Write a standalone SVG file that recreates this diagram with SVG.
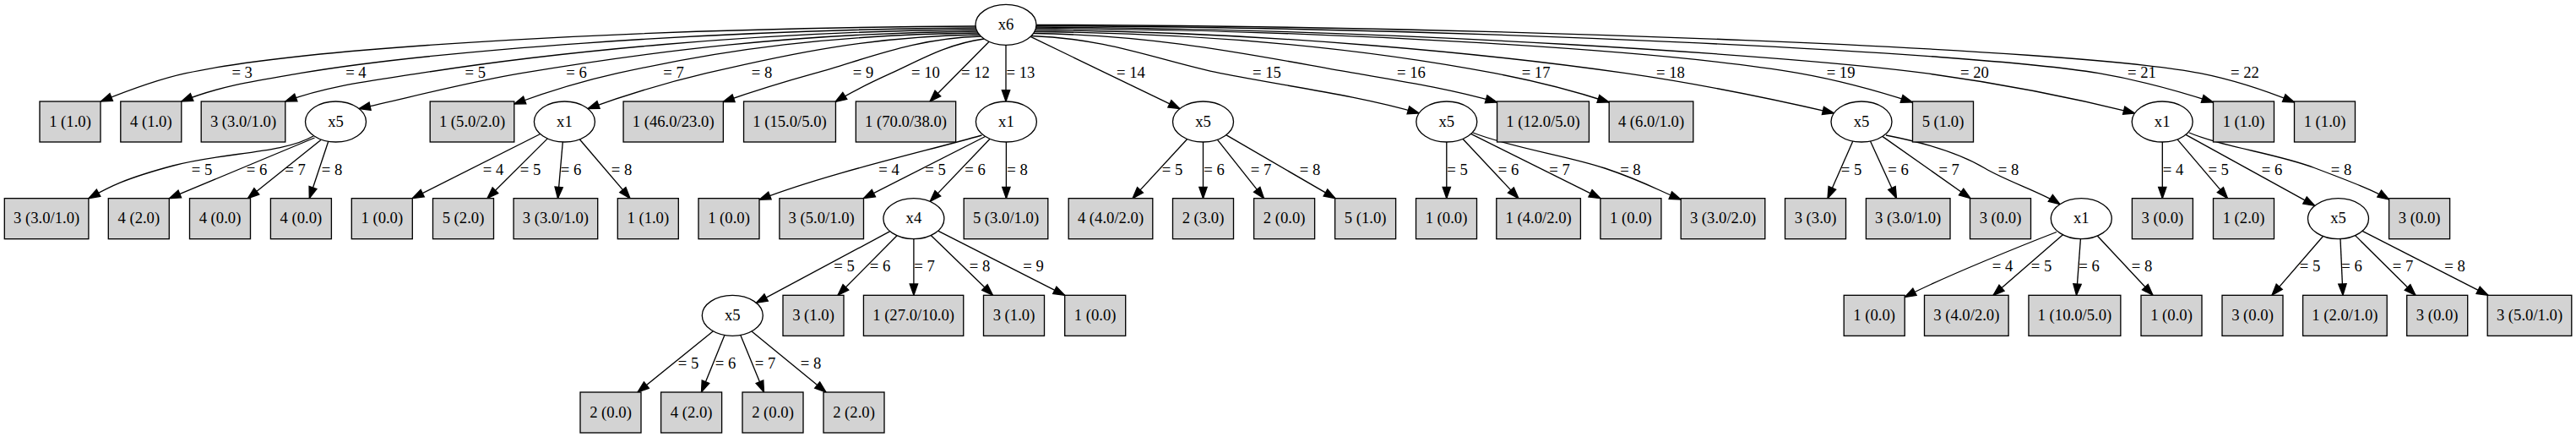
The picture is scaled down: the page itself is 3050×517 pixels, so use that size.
<svg xmlns="http://www.w3.org/2000/svg" width="3050" height="517" viewBox="0 0 3050 517">
<style>
text{font-family:"Liberation Serif","Times New Roman",serif;font-size:18.67px;text-anchor:middle;fill:#000}
.leaf rect{fill:#d3d3d3;stroke:#000;stroke-width:1.33}
.split ellipse{fill:#fff;stroke:#000;stroke-width:1.33}
#edges path{fill:none;stroke:#000;stroke-width:1.33;marker-end:url(#ah)}
</style>
<defs>
<marker id="ah" viewBox="0 -5 14 10" refX="13.33" refY="0" markerWidth="14" markerHeight="10" markerUnits="userSpaceOnUse" orient="auto" overflow="visible">
<path d="M0,-4.67 L13.33,0 L0,4.67 Z" fill="#000" stroke="#000" stroke-width="1.33"/>
</marker>
</defs>
<rect width="3050" height="517" fill="#fff"/>
<g id="edges">
<path d="M1155,31 C781,33 370,54 220,86.7 C186.8,93.9 152.6,106.6 119.4,120"/><text x="286.7" y="92">= 3</text>
<path d="M1155.4,33 C835.2,35 505,61.3 355,86.7 C308.7,94.5 261.1,101.3 214.8,120"/><text x="421.4" y="92">= 4</text>
<path d="M1156,35 C892.4,37 647,63.1 497,86.7 C444.5,94.9 390.3,100.9 337.8,120"/><text x="562.8" y="92">= 5</text>
<path d="M1156.9,37 C940.9,39 767,61.6 617,86.7 C553.7,97.3 488.4,114.5 425.1,128.6"/><text x="682.6" y="92">= 6</text>
<path d="M1158.1,39 C987.3,41 859,58.3 731,86.7 C690.7,95.6 649,108.3 608.7,123"/><text x="797.5" y="92">= 7</text>
<path d="M1159.6,41 C1030.2,43 933,63.9 836,86.7 C789.8,97.6 742.2,111.8 696,128.6"/><text x="902" y="92">= 8</text>
<path d="M1161.4,43 C1082.8,45 1024,70.5 965,86.7 C929,96.6 892,108.1 856,120.5"/><text x="1022" y="92">= 9</text>
<path d="M1165.1,46 C1121,52 1088,71.7 1055,86.7 C1033.2,96.6 1010.8,106.9 989,120.5"/><text x="1096" y="92">= 10</text>
<path d="M1171.1,49.3 L1101,120"/><text x="1155" y="92">= 12</text>
<path d="M1191,53.3 L1191,120"/><text x="1208.5" y="92">= 13</text>
<path d="M1220.2,43.4 L1396.9,128.6"/><text x="1339" y="92">= 14</text>
<path d="M1221.1,42.5 C1310.7,45 1378,73.3 1445,86.7 C1522.6,102.2 1602.6,111.6 1680.2,133.9"/><text x="1500" y="92">= 15</text>
<path d="M1223.6,39.5 C1376.2,41.5 1491,67 1605,86.7 C1660.2,96.2 1717.2,105.2 1772.4,121"/><text x="1671" y="92">= 16</text>
<path d="M1224.8,37.5 C1442.8,39.5 1620,58.3 1770,86.7 C1814.6,95.1 1860.5,106.5 1905.1,121"/><text x="1818.6" y="92">= 17</text>
<path d="M1225.8,35.5 C1505.5,37.5 1775,65.1 1925,86.7 C2006.3,98.4 2090.1,115.1 2171.4,133.9"/><text x="1978" y="92">= 18</text>
<path d="M1226.4,33.5 C1587.8,35.5 1980,60.3 2130,86.7 C2174.3,94.5 2220,106.6 2264.3,121"/><text x="2179.6" y="92">= 19</text>
<path d="M1226.8,32 C1648.1,34 2130,66.4 2280,86.7 C2361.7,97.7 2445.9,113.6 2527.6,133.9"/><text x="2338" y="92">= 20</text>
<path d="M1227.1,30.5 C1730.3,32.5 2335,61.3 2485,86.7 C2529.7,94.3 2575.7,106.5 2620.4,121"/><text x="2536" y="92">= 21</text>
<path d="M1227.25,29.3 C1778.4,31.3 2455,57 2605,86.7 C2641.8,94 2679.8,106.1 2716.6,121"/><text x="2658" y="92">= 22</text>

<path d="M371,161 C335,182 265,180 205,196 C145,212 128,222 104.9,234.67"/><text x="239" y="206.7">= 5</text>
<path d="M372.5,163 L200.5,234.67"/><text x="304" y="206.7">= 6</text>
<path d="M380,165.5 L293.4,234.67"/><text x="349.5" y="206.7">= 7</text>
<path d="M389,166.5 L366.3,234.67"/><text x="393" y="206.7">= 8</text>

<path d="M639.7,158.5 L488.3,234.67"/><text x="584" y="206.7">= 4</text>
<path d="M648.3,163.9 L577,234.67"/><text x="628" y="206.7">= 5</text>
<path d="M666.3,168 L660.5,234.67"/><text x="676" y="206.7">= 6</text>
<path d="M686.2,164.8 L746,234.67"/><text x="736" y="206.7">= 8</text>

<path d="M1162.5,160 C1100,178 980,205 899,236.3"/><text x="1052.6" y="206.7">= 4</text>
<path d="M1166.5,161.5 L1022.5,234.67"/><text x="1107.5" y="206.7">= 5</text>
<path d="M1172.1,164.25 L1101.2,238.4"/><text x="1154.6" y="206.7">= 6</text>
<path d="M1191.4,168 L1191.4,234.67"/><text x="1204.5" y="206.7">= 8</text>

<path d="M1405.7,164.5 L1341,234.67"/><text x="1388" y="206.7">= 5</text>
<path d="M1424.5,168 L1424.5,234.67"/><text x="1437.5" y="206.7">= 6</text>
<path d="M1441.3,165.2 L1496.5,234.67"/><text x="1493" y="206.7">= 7</text>
<path d="M1451.7,159.7 L1581,234.67"/><text x="1551" y="206.7">= 8</text>

<path d="M1712.8,168 L1712.8,234.67"/><text x="1725.5" y="206.7">= 5</text>
<path d="M1731.9,164.3 L1798,234.67"/><text x="1786" y="206.7">= 6</text>
<path d="M1741.6,158.4 L1894.9,234.67"/><text x="1846.5" y="206.7">= 7</text>
<path d="M1744,157 C1790,175 1855,184 1900,199 C1945,214 1965,226 1990.2,236"/><text x="1930.4" y="206.7">= 8</text>

<path d="M2193.8,167 L2164,234.67"/><text x="2192" y="206.7">= 5</text>
<path d="M2214.5,167 L2245.5,234.67"/><text x="2247.5" y="206.7">= 6</text>
<path d="M2228.8,161.4 L2333,234.67"/><text x="2307.7" y="206.7">= 7</text>
<path d="M2233,160 C2285,170 2325,184 2350,199 C2375,214 2418,228 2439,241.7"/><text x="2378" y="206.7">= 8</text>

<path d="M2560.3,168 L2560.3,234.67"/><text x="2573" y="206.7">= 4</text>
<path d="M2578,164.9 L2637.5,234.67"/><text x="2626.7" y="206.7">= 5</text>
<path d="M2588,159.3 L2740.7,243.4"/><text x="2690" y="206.7">= 6</text>
<path d="M2592,157 C2632,174 2695,181.5 2740,198.5 C2785,215.5 2812,226 2828.6,236"/><text x="2772" y="206.7">= 8</text>

<path d="M1053.8,273.7 L895.4,358.3"/><text x="999.5" y="321.4">= 5</text>
<path d="M1062,278.7 L992,349.33"/><text x="1042" y="321.4">= 6</text>
<path d="M1081.9,282.67 L1081.9,349.33"/><text x="1094.5" y="321.4">= 7</text>
<path d="M1102.3,278.4 L1175.5,349.33"/><text x="1160" y="321.4">= 8</text>
<path d="M1110.6,273.2 L1260.7,349.33"/><text x="1223.5" y="321.4">= 9</text>

<path d="M2435,274.5 C2400,288 2300,328 2255.2,351.5"/><text x="2371" y="321.4">= 4</text>
<path d="M2442.4,277.7 L2360,349.33"/><text x="2417" y="321.4">= 5</text>
<path d="M2463.4,282.67 L2458.5,349.33"/><text x="2473.6" y="321.4">= 6</text>
<path d="M2483.3,279 L2549,349.33"/><text x="2536" y="321.4">= 8</text>

<path d="M2750.5,279.5 L2690,349.33"/><text x="2735" y="321.4">= 5</text>
<path d="M2771,282.6 L2774,349.33"/><text x="2784.5" y="321.4">= 6</text>
<path d="M2788.6,278.6 L2860,349.33"/><text x="2845" y="321.4">= 7</text>
<path d="M2797.1,273.3 L2946,349.33"/><text x="2906.5" y="321.4">= 8</text>

<path d="M844.4,391.8 L755,464"/><text x="815" y="436.2">= 5</text>
<path d="M857.9,396.5 L830.5,464"/><text x="859" y="436.2">= 6</text>
<path d="M876.8,396.5 L904.5,464"/><text x="906" y="436.2">= 7</text>
<path d="M890,392 L978,464"/><text x="960" y="436.2">= 8</text>
</g>

<g id="n0" class="split"><ellipse cx="1191" cy="29.33" rx="36" ry="24"/><text x="1191" y="34.8">x6</text></g>

<g id="n1" class="leaf"><rect x="47" y="120" width="72" height="48"/><text x="83" y="149.5">1 (1.0)</text></g>
<g id="n2" class="leaf"><rect x="142.8" y="120" width="72" height="48"/><text x="178.8" y="149.5">4 (1.0)</text></g>
<g id="n3" class="leaf"><rect x="238.2" y="120" width="99.6" height="48"/><text x="288" y="149.5">3 (3.0/1.0)</text></g>
<g id="n4" class="split"><ellipse cx="397.5" cy="144" rx="36" ry="24"/><text x="397.5" y="149.5">x5</text></g>
<g id="n5" class="leaf"><rect x="509.2" y="120" width="99.6" height="48"/><text x="559" y="149.5">1 (5.0/2.0)</text></g>
<g id="n6" class="split"><ellipse cx="668.4" cy="144" rx="36" ry="24"/><text x="668.4" y="149.5">x1</text></g>
<g id="n7" class="leaf"><rect x="738.05" y="120" width="118.3" height="48"/><text x="797.2" y="149.5">1 (46.0/23.0)</text></g>
<g id="n8" class="leaf"><rect x="880.55" y="120" width="108.9" height="48"/><text x="935" y="149.5">1 (15.0/5.0)</text></g>
<g id="n9" class="leaf"><rect x="1013.35" y="120" width="118.3" height="48"/><text x="1072.5" y="149.5">1 (70.0/38.0)</text></g>
<g id="n10" class="split"><ellipse cx="1191.4" cy="144" rx="36" ry="24"/><text x="1191.4" y="149.5">x1</text></g>
<g id="n11" class="split"><ellipse cx="1424.5" cy="144" rx="36" ry="24"/><text x="1424.5" y="149.5">x5</text></g>
<g id="n12" class="split"><ellipse cx="1712.8" cy="144" rx="36" ry="24"/><text x="1712.8" y="149.5">x5</text></g>
<g id="n13" class="leaf"><rect x="1772.55" y="120" width="108.9" height="48"/><text x="1827" y="149.5">1 (12.0/5.0)</text></g>
<g id="n14" class="leaf"><rect x="1905.2" y="120" width="99.6" height="48"/><text x="1955" y="149.5">4 (6.0/1.0)</text></g>
<g id="n15" class="split"><ellipse cx="2204" cy="144" rx="36" ry="24"/><text x="2204" y="149.5">x5</text></g>
<g id="n16" class="leaf"><rect x="2264.5" y="120" width="72" height="48"/><text x="2300.5" y="149.5">5 (1.0)</text></g>
<g id="n17" class="split"><ellipse cx="2560.2" cy="144" rx="36" ry="24"/><text x="2560.2" y="149.5">x1</text></g>
<g id="n18" class="leaf"><rect x="2620.5" y="120" width="72" height="48"/><text x="2656.5" y="149.5">1 (1.0)</text></g>
<g id="n19" class="leaf"><rect x="2716.5" y="120" width="72" height="48"/><text x="2752.5" y="149.5">1 (1.0)</text></g>

<g id="n20" class="leaf"><rect x="5.3" y="234.67" width="99.6" height="48"/><text x="55.1" y="264.2">3 (3.0/1.0)</text></g>
<g id="n21" class="leaf"><rect x="128.3" y="234.67" width="72" height="48"/><text x="164.3" y="264.2">4 (2.0)</text></g>
<g id="n22" class="leaf"><rect x="224.5" y="234.67" width="72" height="48"/><text x="260.5" y="264.2">4 (0.0)</text></g>
<g id="n23" class="leaf"><rect x="320.4" y="234.67" width="72" height="48"/><text x="356.4" y="264.2">4 (0.0)</text></g>
<g id="n24" class="leaf"><rect x="416.3" y="234.67" width="72" height="48"/><text x="452.3" y="264.2">1 (0.0)</text></g>
<g id="n25" class="leaf"><rect x="512.5" y="234.67" width="72" height="48"/><text x="548.5" y="264.2">5 (2.0)</text></g>
<g id="n26" class="leaf"><rect x="608.1" y="234.67" width="99.6" height="48"/><text x="657.9" y="264.2">3 (3.0/1.0)</text></g>
<g id="n27" class="leaf"><rect x="731.3" y="234.67" width="72" height="48"/><text x="767.3" y="264.2">1 (1.0)</text></g>
<g id="n28" class="leaf"><rect x="827" y="234.67" width="72" height="48"/><text x="863" y="264.2">1 (0.0)</text></g>
<g id="n29" class="leaf"><rect x="922.9" y="234.67" width="99.6" height="48"/><text x="972.7" y="264.2">3 (5.0/1.0)</text></g>
<g id="n30" class="split"><ellipse cx="1081.9" cy="258.67" rx="36" ry="24"/><text x="1081.9" y="264.2">x4</text></g>
<g id="n31" class="leaf"><rect x="1141.2" y="234.67" width="99.6" height="48"/><text x="1191" y="264.2">5 (3.0/1.0)</text></g>
<g id="n32" class="leaf"><rect x="1265.2" y="234.67" width="99.6" height="48"/><text x="1315" y="264.2">4 (4.0/2.0)</text></g>
<g id="n33" class="leaf"><rect x="1388.5" y="234.67" width="72" height="48"/><text x="1424.5" y="264.2">2 (3.0)</text></g>
<g id="n34" class="leaf"><rect x="1484.6" y="234.67" width="72" height="48"/><text x="1520.6" y="264.2">2 (0.0)</text></g>
<g id="n35" class="leaf"><rect x="1580.6" y="234.67" width="72" height="48"/><text x="1616.6" y="264.2">5 (1.0)</text></g>
<g id="n36" class="leaf"><rect x="1676.5" y="234.67" width="72" height="48"/><text x="1712.5" y="264.2">1 (0.0)</text></g>
<g id="n37" class="leaf"><rect x="1771.8" y="234.67" width="99.6" height="48"/><text x="1821.6" y="264.2">1 (4.0/2.0)</text></g>
<g id="n38" class="leaf"><rect x="1894.9" y="234.67" width="72" height="48"/><text x="1930.9" y="264.2">1 (0.0)</text></g>
<g id="n39" class="leaf"><rect x="1990.2" y="234.67" width="99.6" height="48"/><text x="2040" y="264.2">3 (3.0/2.0)</text></g>
<g id="n40" class="leaf"><rect x="2113.5" y="234.67" width="72" height="48"/><text x="2149.5" y="264.2">3 (3.0)</text></g>
<g id="n41" class="leaf"><rect x="2209.4" y="234.67" width="99.6" height="48"/><text x="2259.2" y="264.2">3 (3.0/1.0)</text></g>
<g id="n42" class="leaf"><rect x="2332.5" y="234.67" width="72" height="48"/><text x="2368.5" y="264.2">3 (0.0)</text></g>
<g id="n43" class="split"><ellipse cx="2464.3" cy="258.67" rx="36" ry="24"/><text x="2464.3" y="264.2">x1</text></g>
<g id="n44" class="leaf"><rect x="2524.4" y="234.67" width="72" height="48"/><text x="2560.4" y="264.2">3 (0.0)</text></g>
<g id="n45" class="leaf"><rect x="2620.5" y="234.67" width="72" height="48"/><text x="2656.5" y="264.2">1 (2.0)</text></g>
<g id="n46" class="split"><ellipse cx="2768.5" cy="258.67" rx="36" ry="24"/><text x="2768.5" y="264.2">x5</text></g>
<g id="n47" class="leaf"><rect x="2828.6" y="234.67" width="72" height="48"/><text x="2864.6" y="264.2">3 (0.0)</text></g>

<g id="n48" class="split"><ellipse cx="867.3" cy="373.33" rx="36" ry="24"/><text x="867.3" y="378.8">x5</text></g>
<g id="n49" class="leaf"><rect x="927" y="349.33" width="72" height="48"/><text x="963" y="378.8">3 (1.0)</text></g>
<g id="n50" class="leaf"><rect x="1022.45" y="349.33" width="118.3" height="48"/><text x="1081.6" y="378.8">1 (27.0/10.0)</text></g>
<g id="n51" class="leaf"><rect x="1164.5" y="349.33" width="72" height="48"/><text x="1200.5" y="378.8">3 (1.0)</text></g>
<g id="n52" class="leaf"><rect x="1260.7" y="349.33" width="72" height="48"/><text x="1296.7" y="378.8">1 (0.0)</text></g>
<g id="n53" class="leaf"><rect x="2183.2" y="349.33" width="72" height="48"/><text x="2219.2" y="378.8">1 (0.0)</text></g>
<g id="n54" class="leaf"><rect x="2278.5" y="349.33" width="99.6" height="48"/><text x="2328.3" y="378.8">3 (4.0/2.0)</text></g>
<g id="n55" class="leaf"><rect x="2401.95" y="349.33" width="108.9" height="48"/><text x="2456.4" y="378.8">1 (10.0/5.0)</text></g>
<g id="n56" class="leaf"><rect x="2535" y="349.33" width="72" height="48"/><text x="2571" y="378.8">1 (0.0)</text></g>
<g id="n57" class="leaf"><rect x="2631" y="349.33" width="72" height="48"/><text x="2667" y="378.8">3 (0.0)</text></g>
<g id="n58" class="leaf"><rect x="2726.6" y="349.33" width="99.6" height="48"/><text x="2776.4" y="378.8">1 (2.0/1.0)</text></g>
<g id="n59" class="leaf"><rect x="2849.7" y="349.33" width="72" height="48"/><text x="2885.7" y="378.8">3 (0.0)</text></g>
<g id="n60" class="leaf"><rect x="2945.2" y="349.33" width="99.6" height="48"/><text x="2995" y="378.8">3 (5.0/1.0)</text></g>

<g id="n61" class="leaf"><rect x="687" y="464" width="72" height="48"/><text x="723" y="493.5">2 (0.0)</text></g>
<g id="n62" class="leaf"><rect x="782.6" y="464" width="72" height="48"/><text x="818.6" y="493.5">4 (2.0)</text></g>
<g id="n63" class="leaf"><rect x="879" y="464" width="72" height="48"/><text x="915" y="493.5">2 (0.0)</text></g>
<g id="n64" class="leaf"><rect x="975" y="464" width="72" height="48"/><text x="1011" y="493.5">2 (2.0)</text></g>
</svg>
